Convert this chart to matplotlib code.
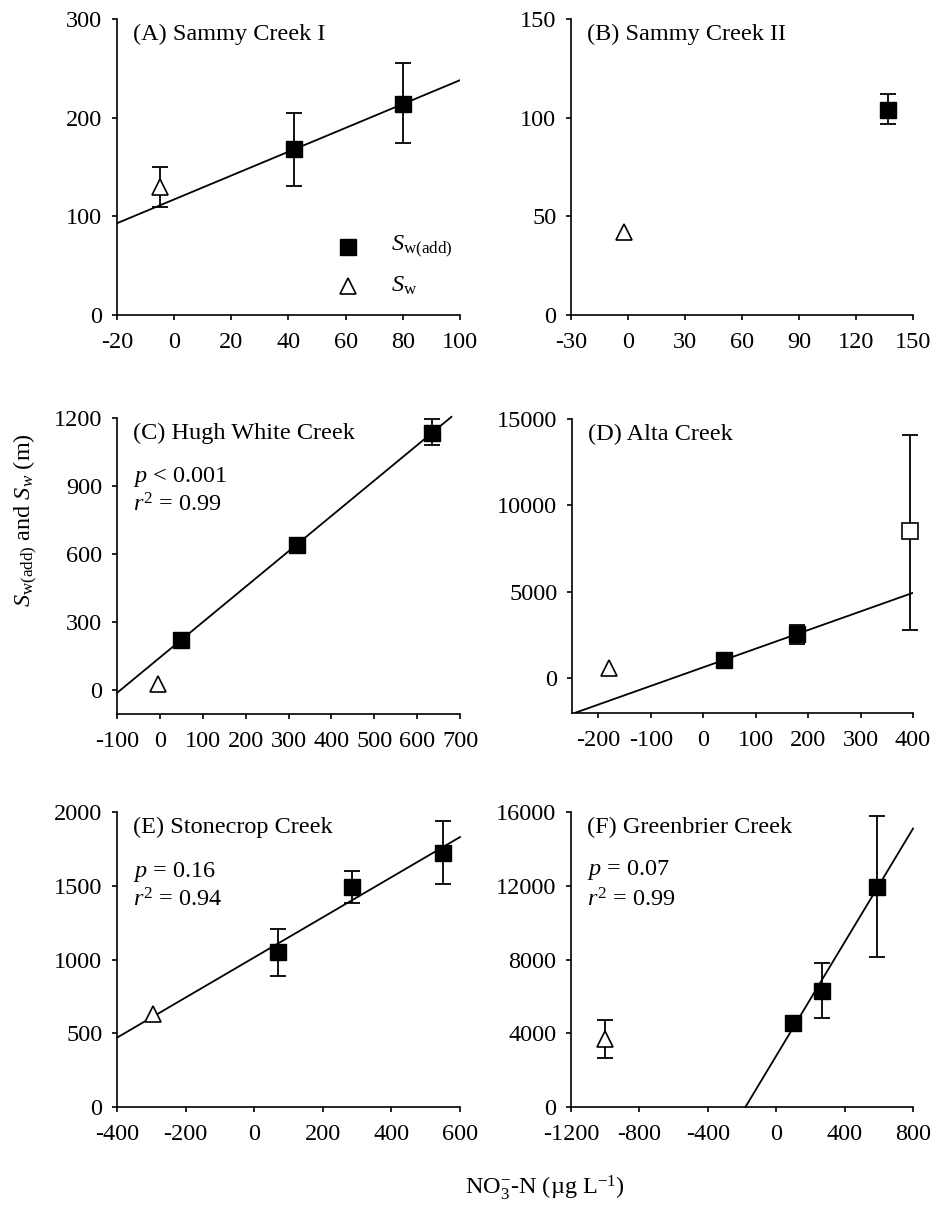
import matplotlib
matplotlib.use("Agg")
import matplotlib.pyplot as plt
from matplotlib.ticker import FixedLocator

plt.rcParams['font.family'] = ['Liberation Serif', 'DejaVu Serif']
plt.rcParams['mathtext.fontset'] = 'custom'
plt.rcParams['mathtext.rm'] = 'Liberation Serif'
plt.rcParams['mathtext.it'] = 'Liberation Serif:italic'
plt.rcParams['mathtext.bf'] = 'Liberation Serif:bold'
plt.rcParams['axes.unicode_minus'] = False

# ---------------- data ----------------
# (A) Sammy Creek I
a_sw_x = [-5]; a_sw_y = [130]; a_sw_lo = [109]; a_sw_hi = [150]
a_add_x = [42, 80]; a_add_y = [168, 214]; a_add_lo = [131, 174]; a_add_hi = [205, 255]
a_fit_x = [-20, 100]; a_fit_y = [93, 238]

# (B) Sammy Creek II
b_sw_x = [-2]; b_sw_y = [42]
b_add_x = [137]; b_add_y = [104]; b_add_lo = [97]; b_add_hi = [112]

# (C) Hugh White Creek
c_sw_x = [-5]; c_sw_y = [28]
c_add_x = [50, 320, 635]; c_add_y = [222, 640, 1135]; c_add_lo = [222, 640, 1080]; c_add_hi = [222, 640, 1195]
c_fit_x = [-100, 680]; c_fit_y = [-12, 1205]

# (D) Alta Creek
d_sw_x = [-180]; d_sw_y = [600]
d_add_x = [40, 178]; d_add_y = [1050, 2550]; d_add_lo = [1050, 2000]; d_add_hi = [1050, 3100]
d_open_x = [395]; d_open_y = [8500]; d_open_lo = [2800]; d_open_hi = [14100]
d_fit_x = [-245, 400]; d_fit_y = [-2000, 4950]

# (E) Stonecrop Creek
e_sw_x = [-295]; e_sw_y = [630]
e_add_x = [70, 285, 550]; e_add_y = [1050, 1490, 1720]; e_add_lo = [890, 1380, 1510]; e_add_hi = [1210, 1600, 1940]
e_fit_x = [-400, 600]; e_fit_y = [470, 1830]

# (F) Greenbrier Creek
f_sw_x = [-1000]; f_sw_y = [3700]; f_sw_lo = [2650]; f_sw_hi = [4700]
f_add_x = [100, 270, 590]; f_add_y = [4550, 6300, 11950]; f_add_lo = [4550, 4850, 8150]; f_add_hi = [4550, 7800, 15800]
f_fit_x = [-180, 800]; f_fit_y = [0, 15100]

titles = ["(A) Sammy Creek I", "(B) Sammy Creek II", "(C) Hugh White Creek",
          "(D) Alta Creek", "(E) Stonecrop Creek", "(F) Greenbrier Creek"]
xticks = [[-20, 0, 20, 40, 60, 80, 100], [-30, 0, 30, 60, 90, 120, 150],
          [-100, 0, 100, 200, 300, 400, 500, 600, 700], [-200, -100, 0, 100, 200, 300, 400],
          [-400, -200, 0, 200, 400, 600], [-1200, -800, -400, 0, 400, 800]]
yticks = [[0, 100, 200, 300], [0, 50, 100, 150], [0, 300, 600, 900, 1200],
          [0, 5000, 10000, 15000], [0, 500, 1000, 1500, 2000], [0, 4000, 8000, 12000, 16000]]
xlims = [(-20, 100), (-30, 150), (-100, 700), (-250, 400), (-400, 600), (-1200, 800)]
ylims = [(0, 300), (0, 150), (-105, 1200), (-2000, 15000), (0, 2000), (0, 16000)]

# ---------------- figure ----------------
W, H = 937, 1205
fig = plt.figure(figsize=(W / 100, H / 100), dpi=100)

boxes = [(117, 460, 19, 315), (571, 913, 19, 315),
         (117, 460, 418, 714), (572, 913, 419, 713),
         (117, 460, 812, 1107), (571, 913, 812, 1107)]
axes = []
for (l, r, t, b) in boxes:
    ax = fig.add_axes([l / W, 1 - b / H, (r - l) / W, (b - t) / H])
    axes.append(ax)

FS = 17.5
msq = dict(marker='s', markersize=11.5, mfc='black', mec='black', ls='none')
mtri = dict(marker='^', markersize=11, mfc='white', mec='black', mew=1.2, ls='none')
eb = dict(ecolor='black', elinewidth=1.3, capsize=6, capthick=1.3, ls='none')


def errs(y, lo, hi):
    return [[yy - l for yy, l in zip(y, lo)], [h - yy for yy, h in zip(y, hi)]]


for i, ax in enumerate(axes):
    ax.set_xlim(*xlims[i])
    ax.set_ylim(*ylims[i])
    ax.xaxis.set_major_locator(FixedLocator(xticks[i]))
    ax.yaxis.set_major_locator(FixedLocator(yticks[i]))
    for s in ['top', 'right']:
        ax.spines[s].set_visible(False)
    for s in ['left', 'bottom']:
        ax.spines[s].set_linewidth(1.2)
    ax.tick_params(axis='x', direction='out', length=3.5, width=1.2, labelsize=FS, pad=9)
    ax.tick_params(axis='y', direction='out', length=3.5, width=1.2, labelsize=FS, pad=7)
    ax.text(0.047, 0.985, titles[i], transform=ax.transAxes, fontsize=FS,
            ha='left', va='top')

# A
ax = axes[0]
ax.plot(a_fit_x, a_fit_y, color='black', lw=1.3, zorder=2)
ax.errorbar(a_sw_x, a_sw_y, yerr=errs(a_sw_y, a_sw_lo, a_sw_hi), **eb, zorder=3)
ax.plot(a_sw_x, a_sw_y, **mtri, zorder=4)
ax.errorbar(a_add_x, a_add_y, yerr=errs(a_add_y, a_add_lo, a_add_hi), **eb, zorder=3)
ax.plot(a_add_x, a_add_y, **msq, zorder=4)
# legend
lx = 0.673
ax.plot([lx], [0.23], transform=ax.transAxes, marker='s', markersize=11.5, mfc='black', mec='black', clip_on=False)
ax.plot([lx], [0.098], transform=ax.transAxes, marker='^', markersize=11, mfc='white', mec='black', mew=1.2, clip_on=False)
ax.text(0.8, 0.23, r"$S_{\mathrm{w(add)}}$", transform=ax.transAxes, fontsize=FS, va='center')
ax.text(0.8, 0.098, r"$S_{\mathrm{w}}$", transform=ax.transAxes, fontsize=FS, va='center')

# B
ax = axes[1]
ax.plot(b_sw_x, b_sw_y, **mtri, zorder=4)
ax.errorbar(b_add_x, b_add_y, yerr=errs(b_add_y, b_add_lo, b_add_hi), **eb, zorder=3)
ax.plot(b_add_x, b_add_y, **msq, zorder=4)

# C
ax = axes[2]
ax.plot(c_fit_x, c_fit_y, color='black', lw=1.3, zorder=2, clip_on=False)
ax.plot(c_sw_x, c_sw_y, **mtri, zorder=4)
ax.errorbar(c_add_x, c_add_y, yerr=errs(c_add_y, c_add_lo, c_add_hi), **eb, zorder=3)
ax.plot(c_add_x, c_add_y, **msq, zorder=4)
ax.text(0.047, 0.784, r"$p$ < 0.001", transform=ax.transAxes, fontsize=FS, va='baseline')
ax.text(0.047, 0.683, r"$r^2$ = 0.99", transform=ax.transAxes, fontsize=FS, va='baseline')

# D
ax = axes[3]
ax.plot(d_fit_x, d_fit_y, color='black', lw=1.3, zorder=2)
ax.plot(d_sw_x, d_sw_y, **mtri, zorder=4)
ax.errorbar(d_add_x, d_add_y, yerr=errs(d_add_y, d_add_lo, d_add_hi), **eb, zorder=3)
ax.plot(d_add_x, d_add_y, **msq, zorder=4)
ax.errorbar(d_open_x, d_open_y, yerr=errs(d_open_y, d_open_lo, d_open_hi), **eb, zorder=3, clip_on=False)
ax.plot(d_open_x, d_open_y, marker='s', markersize=11.5, mfc='white', mec='black', mew=1.2,
        ls='none', zorder=4, clip_on=False)

# E
ax = axes[4]
ax.plot(e_fit_x, e_fit_y, color='black', lw=1.3, zorder=2, clip_on=False)
ax.plot(e_sw_x, e_sw_y, **mtri, zorder=4)
ax.errorbar(e_add_x, e_add_y, yerr=errs(e_add_y, e_add_lo, e_add_hi), **eb, zorder=3)
ax.plot(e_add_x, e_add_y, **msq, zorder=4)
ax.text(0.047, 0.78, r"$p$ = 0.16", transform=ax.transAxes, fontsize=FS, va='baseline')
ax.text(0.047, 0.678, r"$r^2$ = 0.94", transform=ax.transAxes, fontsize=FS, va='baseline')

# F
ax = axes[5]
ax.plot(f_fit_x, f_fit_y, color='black', lw=1.3, zorder=2, clip_on=False)
ax.errorbar(f_sw_x, f_sw_y, yerr=errs(f_sw_y, f_sw_lo, f_sw_hi), **eb, zorder=3)
ax.plot(f_sw_x, f_sw_y, **mtri, zorder=4)
ax.errorbar(f_add_x, f_add_y, yerr=errs(f_add_y, f_add_lo, f_add_hi), **eb, zorder=3)
ax.plot(f_add_x, f_add_y, **msq, zorder=4)
ax.text(0.047, 0.786, r"$p$ = 0.07", transform=ax.transAxes, fontsize=FS, va='baseline')
ax.text(0.047, 0.678, r"$r^2$ = 0.99", transform=ax.transAxes, fontsize=FS, va='baseline')

# shared labels
fig.text(545 / W, 1 - 1188 / H, r"NO$_3^{-}$-N (µg L$^{-1}$)", fontsize=FS, ha='center', va='center')
fig.text(26 / W, 1 - 520 / H, r"$S_{\mathrm{w(add)}}$ and $S_w$ (m)", fontsize=FS,
         rotation=90, ha='center', va='center')

fig.savefig("out.png", dpi=100, facecolor='white')
